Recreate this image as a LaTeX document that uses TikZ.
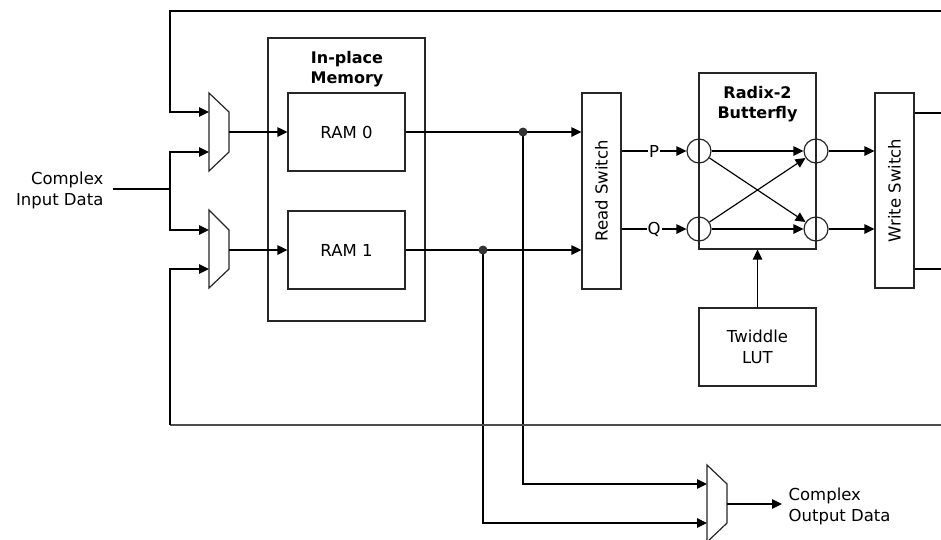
\documentclass[tikz,border=0pt]{standalone}
\usepackage{fontspec}
\setmainfont{DejaVu Sans}
\usetikzlibrary{arrows.meta}
\begin{document}
\begin{tikzpicture}[x=1pt,y=-1pt,line width=1.2pt,
  font=\fontsize{16.5}{21}\selectfont,
  >={Triangle[length=10pt,width=9.5pt]},
  blk/.style={draw=black!85,rectangle,inner sep=0pt,align=center},
  ttl/.style={align=center,inner sep=0pt,font=\fontsize{16}{20}\selectfont\bfseries},
  bfly/.style={draw=black!85,circle,minimum size=24pt,inner sep=0pt},
  muxshape/.style={draw=black!85,line join=miter},
  jdot/.style={circle,fill=black!80,minimum size=9pt,inner sep=0pt},
  fb/.style={draw=black!70,line width=1.6pt}]
\useasboundingbox (0,0) rectangle (941,539);
\clip (0,0) rectangle (941,539);

% blocks
\node[blk,minimum width=157pt,minimum height=283pt] (mem) at (346.5,179.5) {};
\node[ttl] (memt) at (347,69) {In-place\\Memory};
\node[blk,minimum width=117pt,minimum height=78pt] (ram0) at (346.5,132) {RAM 0};
\node[blk,minimum width=117pt,minimum height=78pt] (ram1) at (346.5,250) {RAM 1};
\node[blk,minimum width=39pt,minimum height=196pt] (rsw) at (601.5,191) {};
\node[rotate=90,inner sep=0pt] (rswt) at (rsw.center) {Read Switch};
\node[blk,minimum width=117pt,minimum height=176pt] (bf) at (757.5,161) {};
\node[ttl] (bft) at (757.5,104.5) {Radix-2\\Butterfly};
\node[blk,minimum width=39pt,minimum height=195pt] (wsw) at (894.5,190.5) {};
\node[rotate=90,inner sep=0pt] (wswt) at (wsw.center) {Write Switch};
\node[blk,minimum width=117pt,minimum height=78pt] (lut) at (757.5,347) {Twiddle\\LUT};

% butterfly circles
\node[bfly] (pin) at (699,151) {};
\node[bfly] (qin) at (699,229) {};
\node[bfly] (pout) at (816,151) {};
\node[bfly] (qout) at (816,229) {};

% muxes
\draw[muxshape] (209,93) -- (229,112) -- (229,152) -- (209,171) -- cycle;
\draw[muxshape] (209,210) -- (229,230) -- (229,269) -- (209,288) -- cycle;
\draw[muxshape] (707,465) -- (727,484) -- (727,523) -- (707,542) -- cycle;
\coordinate (m0a) at (209,112);
\coordinate (m0b) at (209,152);
\coordinate (m0o) at (229,132);
\coordinate (m1a) at (209,230);
\coordinate (m1b) at (209,269);
\coordinate (m1o) at (229,250);
\coordinate (moa) at (707,484);
\coordinate (mob) at (707,523);
\coordinate (moo) at (727,504);

% texts
\node[anchor=east,inner sep=0pt,align=right] (cin) at (104,190) {Complex\\Input Data};
\node[anchor=west,inner sep=0pt,align=left] (cout) at (788,506) {Complex\\Output Data};

% input
\coordinate (inj) at (170,189);
\draw (113,189) -- (inj);
\draw[->] (inj) |- (m0b);
\draw[->] (inj) |- (m1a);

% mux to RAM
\draw[->] (m0o) -- (ram0.west);
\draw[->] (m1o) -- (ram1.west);

% RAM to read switch
\coordinate (d0) at (523,132);
\coordinate (d1) at (483,250);
\draw[->] (ram0.east) -- (ram0.east -| rsw.west);
\draw[->] (ram1.east) -- (ram1.east -| rsw.west);
\draw[->] (d0) |- (moa);
\draw[->] (d1) |- (mob);
\node[jdot] (d0n) at (d0) {};
\node[jdot] (d1n) at (d1) {};

% read switch to butterfly
\draw[->] (pin -| rsw.east) -- node[fill=white,inner sep=1pt] (pl) {P} (pin);
\draw[->] (qin -| rsw.east) -- node[fill=white,inner sep=1pt] (ql) {Q} (qin);

% butterfly internals
\draw[->] (pin) -- (pout);
\draw[->] (qin) -- (qout);
\draw[->] (pin) -- (qout);
\draw[->] (qin) -- (pout);

% butterfly to write switch
\draw[->] (pout) -- (pout -| wsw.west);
\draw[->] (qout) -- (qout -| wsw.west);

% twiddle
\draw[->] (lut.north) -- (bf.south);

% write switch outputs
\coordinate (wo1) at (945,113);
\coordinate (wo2) at (945,269);
\draw (wsw.east |- wo1) -- (wo1);
\draw (wsw.east |- wo2) -- (wo2);

% feedback
\coordinate (fbt) at (945,11);
\coordinate (fbb) at (945,425);
\draw[->] (fbt) -- (170,11) |- (m0a);
\draw[fb] (fbb) -- (170,425);
\draw[->] (170,425) |- (m1b);

% output
\draw[->] (moo) -- (782,504);
\end{tikzpicture}
\end{document}
